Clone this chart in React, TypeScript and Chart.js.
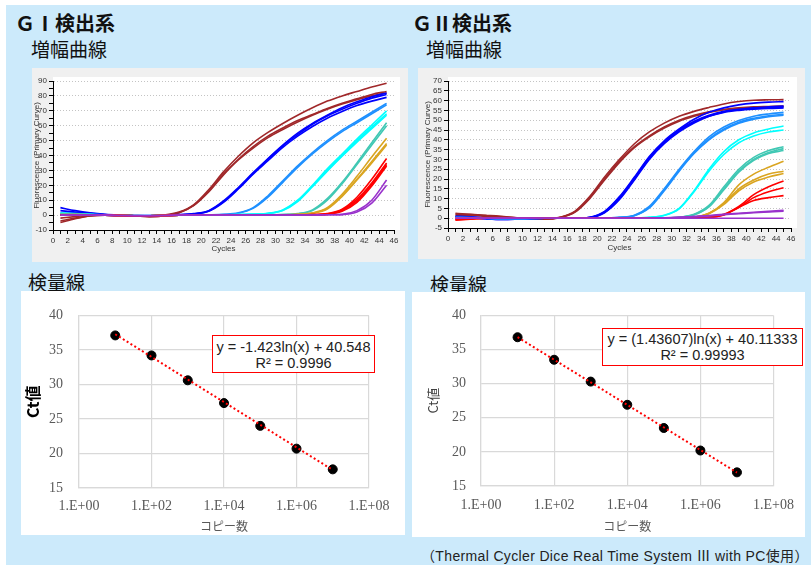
import React, { useEffect, useRef } from 'react';
import { Chart, registerables } from 'chart.js';
Chart.register(...registerables);
Chart.defaults.font.family = '"Liberation Sans", Arial, sans-serif';

// ---------- amplification curves (cycles sampled every 2) ----------
const CYCLES = [1, 3, 5, 7, 9, 11, 13, 15, 17, 19, 21, 23, 25, 27, 29, 31, 33, 35, 37, 39, 41, 43, 45];

const COLOR_DARKRED = '#A0282A';
const COLOR_BLUE = '#0000FF';
const COLOR_DODGER = '#1E90FF';
const COLOR_CYAN = '#00FFFF';
const COLOR_TEAL = '#40C8B4';
const COLOR_GOLD = '#DAA520';
const COLOR_RED = '#FF0000';
const COLOR_PURPLE = '#9932CC';

// GI
const GI_DARKRED = [
  [-2, -1, 0, 0, 0, -0.3, -0.5, 0, 2, 7, 17, 29, 39.5, 48.5, 55.5, 61.5, 67, 72, 76.5, 80, 83, 86, 88.5],
  [-4, -2, -0.5, 0, -0.2, -0.5, -1, -0.5, 1.5, 6.5, 16, 27.5, 37.5, 46, 53, 58.5, 63.5, 67.5, 71.5, 75, 78, 81, 83],
  [-5, -2.5, -0.5, 0, -0.2, -0.5, -1, -0.5, 1.5, 6.5, 15.5, 27, 37, 45, 52, 57.5, 62.5, 67, 71, 74.5, 77.5, 80, 82],
];
const GI_BLUE = [
  [5, 3, 1.5, 0.5, 0, -0.3, -0.3, 0, 0.3, 1, 3, 9.5, 18.5, 28.5, 38, 47, 55, 61.5, 67, 72, 76, 79.5, 82],
  [3, 2, 1.2, 0.3, -0.2, -0.4, -0.4, -0.2, 0.2, 0.8, 2.8, 9, 18, 28, 37.5, 46.5, 54, 61, 66.5, 71, 75, 78.5, 81],
  [1, 1.5, 1, 0.2, -0.3, -0.5, -0.5, -0.3, 0.1, 0.7, 2.5, 8.5, 17.5, 27.5, 36.5, 45.5, 53, 59.5, 65, 69.5, 73.5, 76.5, 79],
];
const GI_DODGER = [
  [1, 0.8, 0.5, 0.2, -0.2, -0.3, -0.3, -0.2, 0, 0.1, 0.2, 0.5, 1.5, 5, 13, 23, 33, 42, 50, 57, 63, 69, 75],
  [0.5, 0.5, 0.3, 0, -0.3, -0.4, -0.4, -0.3, 0, 0.1, 0.2, 0.4, 1.3, 4.5, 12, 22, 32, 41, 49, 56, 62, 68, 74],
];
const GI_CYAN = [
  [1.5, 1, 0.5, 0, -0.3, -0.4, -0.4, -0.3, 0, 0, 0, 0.2, 0.4, 0.7, 1.2, 3.5, 10, 20, 31, 41, 51, 60.5, 70],
  [1, 0.7, 0.3, 0, -0.3, -0.4, -0.4, -0.3, 0, 0, 0, 0.2, 0.3, 0.6, 1.1, 3.3, 9.5, 19.5, 30, 40, 50, 59, 68],
  [0.5, 0.5, 0.2, 0, -0.3, -0.4, -0.4, -0.3, 0, 0, 0, 0.1, 0.3, 0.5, 1, 3, 9, 19, 29.5, 39.5, 49, 58, 67],
];
const GI_TEAL = [
  [1, 0.8, 0.4, 0, -0.3, -0.4, -0.4, -0.3, 0, 0, 0, 0, 0, 0.1, 0.2, 0.4, 1, 3.5, 11, 22, 35, 48.5, 62],
  [0.5, 0.5, 0.2, 0, -0.3, -0.4, -0.4, -0.3, 0, 0, 0, 0, 0, 0.1, 0.2, 0.3, 0.8, 3, 10, 21, 34, 47, 60],
];
const GI_GOLD = [
  [0.3, 0.3, 0.2, 0, -0.3, -0.4, -0.4, -0.3, 0, 0, 0, 0, 0, 0, 0.1, 0.2, 0.5, 1.5, 5, 14, 26, 39, 51.5],
  [0, 0.2, 0.1, 0, -0.3, -0.4, -0.4, -0.3, 0, 0, 0, 0, 0, 0, 0.1, 0.2, 0.4, 1.3, 4.5, 13, 24, 36, 48],
  [0, 0.1, 0.1, 0, -0.3, -0.4, -0.4, -0.3, 0, 0, 0, 0, 0, 0, 0.1, 0.1, 0.4, 1.2, 4, 12.5, 23.5, 35, 47],
];
const GI_RED = [
  [0, 0, 0, 0, -0.3, -0.4, -0.4, -0.3, 0, 0, 0, 0, 0, 0, 0, 0, 0.1, 0.3, 1, 4, 12, 24, 38],
  [0, 0, 0, 0, -0.3, -0.4, -0.4, -0.3, 0, 0, 0, 0, 0, 0, 0, 0, 0.1, 0.3, 0.8, 3.5, 10.5, 21.5, 35],
  [0, 0, 0, 0, -0.3, -0.4, -0.4, -0.3, 0, 0, 0, 0, 0, 0, 0, 0, 0.1, 0.2, 0.6, 3, 9.5, 20.5, 34],
  [0, 0, 0, 0, -0.3, -0.4, -0.4, -0.3, 0, 0, 0, 0, 0, 0, 0, 0, 0.1, 0.2, 0.5, 2.5, 8.5, 19.5, 33],
];
const GI_PURPLE = [
  [0, 0, 0, 0, -0.3, -0.4, -0.4, -0.3, 0, 0, 0, 0, 0, 0, 0, 0, 0, 0.1, 0.2, 0.5, 3, 10, 23.5],
  [0, 0, 0, 0, -0.3, -0.4, -0.4, -0.3, 0, 0, 0, 0, 0, 0, 0, 0, 0, 0.1, 0.2, 0.3, 2, 8, 20],
];

// GII
const GII_DARKRED = [
  [2.5, 2, 1.5, 1, 0.3, -0.3, -0.3, 0.5, 3.5, 11, 21, 30, 38, 44, 48.5, 52, 54.5, 56.5, 58.3, 59.5, 60.2, 60.4, 60.5],
  [2, 1.8, 1.3, 0.8, 0.2, -0.4, -0.4, 0.4, 3.2, 10.5, 20, 29, 36.5, 42, 46.5, 50, 52.5, 54.3, 55.5, 56.3, 56.8, 57, 57.2],
  [1.5, 1.5, 1, 0.5, 0, -0.5, -0.5, 0.3, 3, 10, 19.5, 28.5, 36, 41.5, 46, 49.5, 52, 54, 55.3, 56, 56.5, 56.8, 57],
];
const GII_BLUE = [
  [1, 0.7, 0.2, -0.3, -0.3, 0, 0, 0, 0, 0.5, 3.5, 11, 21, 31.5, 39.5, 45.5, 50.5, 54, 56.3, 57.8, 58.7, 59.2, 59.5],
  [0.8, 0.5, 0, -0.5, -0.5, -0.2, 0, 0, 0, 0.4, 3.2, 10.5, 20.5, 31, 39, 45, 49.5, 52.5, 54.5, 55.5, 56, 56.3, 56.5],
  [0.5, 0.3, -0.2, -0.6, -0.5, -0.2, 0, 0, 0, 0.3, 3, 10, 20, 30.5, 38.5, 44.5, 49, 52, 54, 55, 55.6, 56, 56.2],
  [0.3, 0.2, -0.3, -0.6, -0.5, -0.2, 0, 0, 0, 0.3, 2.8, 9.5, 19.5, 30, 38, 44, 48.5, 52, 54.2, 55.5, 56.3, 56.8, 57.2],
];
const GII_DODGER = [
  [0.5, 0.3, 0, -0.3, -0.3, -0.1, 0, 0, 0, 0, 0.1, 0.4, 1.5, 6, 15, 25, 34, 41.5, 46.5, 49.8, 52, 53.2, 54],
  [0.3, 0.2, 0, -0.3, -0.3, -0.1, 0, 0, 0, 0, 0.1, 0.4, 1.4, 5.5, 14.5, 24.5, 33.5, 40.5, 45.5, 49, 51, 52.3, 53],
  [0.2, 0.1, 0, -0.3, -0.3, -0.1, 0, 0, 0, 0, 0.1, 0.3, 1.3, 5.2, 14, 24, 33, 40, 45, 48.5, 50.5, 51.8, 52.5],
];
const GII_CYAN = [
  [0, 0, 0, 0, 0, 0, 0, 0, 0, 0, 0, 0.1, 0.2, 0.5, 1.5, 5, 14, 25, 34, 40, 43.5, 45.5, 47],
  [0, 0, 0, 0, 0, 0, 0, 0, 0, 0, 0, 0.1, 0.2, 0.5, 1.4, 4.8, 13.5, 24, 32.5, 38.5, 42, 44, 45],
];
const GII_TEAL = [
  [0, 0, 0, 0, 0, 0, 0, 0, 0, 0, 0, 0, 0, 0.1, 0.2, 0.5, 2, 6.5, 16, 25, 31, 34.5, 36.5],
  [0, 0, 0, 0, 0, 0, 0, 0, 0, 0, 0, 0, 0, 0.1, 0.2, 0.5, 1.8, 6, 15, 24, 30, 33.5, 35.5],
  [0, 0, 0, 0, 0, 0, 0, 0, 0, 0, 0, 0, 0, 0.1, 0.2, 0.4, 1.7, 5.8, 14.5, 23.5, 29.5, 33, 34.5],
];
const GII_GOLD = [
  [0, 0, 0, 0, 0, 0, 0, 0, 0, 0, 0, 0, 0, 0, 0.1, 0.2, 0.5, 2.5, 8, 17, 22.5, 26, 29],
  [0, 0, 0, 0, 0, 0, 0, 0, 0, 0, 0, 0, 0, 0, 0.1, 0.2, 0.5, 2.5, 7.5, 15, 19.5, 22.5, 24],
  [0, 0, 0, 0, 0, 0, 0, 0, 0, 0, 0, 0, 0, 0, 0.1, 0.2, 0.4, 2.3, 7, 14, 18.5, 21, 22.8],
];
const GII_RED = [
  [-1, -0.5, 0, 0, 0, 0, 0, 0, 0, 0, 0, 0, 0, 0, 0, 0.1, 0.2, 0.5, 2, 6, 12, 16, 19],
  [-0.8, -0.4, 0, 0, 0, 0, 0, 0, 0, 0, 0, 0, 0, 0, 0, 0.1, 0.2, 0.4, 1.8, 5.5, 10.5, 13.5, 15.5],
  [-0.5, -0.3, 0, 0, 0, 0, 0, 0, 0, 0, 0, 0, 0, 0, 0, 0.1, 0.2, 0.4, 1.7, 5.5, 9, 10.5, 11.5],
];
const GII_PURPLE = [
  [0, 0, 0, 0, 0, 0, 0, 0, 0, 0, 0, 0, 0, 0, 0.2, 0.5, 0.9, 1.4, 2, 2.5, 3, 3.5, 4],
  [0, 0, 0, 0, 0, 0, 0, 0, 0, 0, 0, 0, 0, 0, 0.1, 0.4, 0.8, 1.2, 1.8, 2.3, 2.8, 3.2, 3.6],
  [0, 0, 0, 0, 0, 0, 0, 0, 0, 0, 0, 0, 0, 0, 0, 0, 0, 0, 0, 0, 0, 0, 0],
];

// ---------- calibration curves ----------
const COPIES = [1e1, 1e2, 1e3, 1e4, 1e5, 1e6, 1e7];
const CT_GI = [37.1, 34.2, 30.6, 27.3, 24.0, 20.7, 17.7];
const CT_GII = [36.8, 33.5, 30.3, 26.9, 23.5, 20.2, 17.0];
const TREND_X = [1e1, 1e7];
const TREND_GI = [37.27, 17.61];
const TREND_GII = [36.81, 16.97];
const LOG_TICKS = [1, 1e2, 1e4, 1e6, 1e8];

const bgPlugin = {
  id: 'bg',
  beforeDraw(chart: any, _args: any, opts: any) {
    const { ctx, chartArea: a, width, height } = chart;
    ctx.save();
    ctx.fillStyle = opts.outer;
    ctx.fillRect(0, 0, width, height);
    if (opts.inner) {
      ctx.fillStyle = opts.inner;
      ctx.fillRect(a.left, a.top - opts.extTop, a.right - a.left + opts.extRight, a.bottom - a.top + opts.extTop);
    }
    ctx.restore();
  },
};

function ampConfig(groups: [string, number[][]][], yMin: number, yMax: number, yStep: number, yLabelStep: number,
  yW: number, xH: number, yTitlePad: number, xTitlePad: number) {
  const datasets: any[] = [];
  groups.forEach(([color, lines]) => lines.forEach((arr) => datasets.push({
    data: arr.map((v, i) => ({ x: CYCLES[i], y: v })),
    borderColor: color, borderWidth: 1.6, pointRadius: 0, cubicInterpolationMode: 'monotone', fill: false,
  })));
  datasets.reverse();
  const tickFont = { size: 8, family: '"Liberation Sans", Arial, sans-serif' };
  return {
    type: 'line',
    data: { datasets },
    plugins: [bgPlugin],
    options: {
      animation: false, responsive: false, devicePixelRatio: 1,
      layout: { padding: { top: 13, right: 14, left: 0, bottom: 0 } },
      plugins: { legend: { display: false }, tooltip: { enabled: false }, bg: { outer: '#f0f0f0', inner: '#ffffff', extTop: 4, extRight: 6 } },
      scales: {
        x: {
          type: 'linear', min: 0, max: 46,
          afterFit: (s: any) => { s.height = xH; },
          ticks: { stepSize: 1, autoSkip: false, maxRotation: 0, padding: 2, color: '#333', font: tickFont,
            callback: (v: any) => (v % 2 === 0 ? String(v) : '') },
          grid: { drawOnChartArea: false, tickLength: 4, tickColor: '#000' },
          border: { color: '#000' },
          title: { display: true, text: 'Cycles', color: '#333', font: tickFont, padding: { top: 0, bottom: xTitlePad } },
        },
        y: {
          min: yMin, max: yMax,
          afterFit: (s: any) => { s.width = yW; },
          ticks: { stepSize: yStep, autoSkip: false, padding: 2, color: '#333', font: tickFont,
            callback: (v: any) => (v % yLabelStep === 0 ? String(v) : '') },
          grid: {
            color: (ctx: any) => (ctx.tick && ctx.tick.value % yLabelStep === 0 && ctx.tick.value !== yMin ? '#c4c4c4' : 'rgba(0,0,0,0)'),
            tickColor: '#000', tickLength: 4,
          },
          border: { color: '#000', dash: [1, 2] },
          title: { display: true, text: 'Fluorescence (Primary Curve)', color: '#333', font: tickFont, padding: { top: yTitlePad, bottom: 0 } },
        },
      },
    },
  };
}

function calConfig(ct: number[], trend: number[], yW: number, xH: number, padTop: number, padRight: number,
  yTitle: any, yTitlePad: number, yTickPad: number, xTickPad: number, xTitlePad: number) {
  const serif = { family: '"Liberation Serif", "DejaVu Serif", serif', size: 14 };
  return {
    type: 'scatter',
    data: {
      datasets: [
        { data: TREND_X.map((x, i) => ({ x, y: trend[i] })), showLine: true, borderColor: '#FF0000', borderWidth: 2,
          borderDash: [2, 2.5], pointRadius: 0, order: 0 },
        { data: COPIES.map((x, i) => ({ x, y: ct[i] })), pointRadius: 4.5, pointBackgroundColor: '#000', pointBorderColor: '#000', order: 1 },
      ],
    },
    plugins: [bgPlugin],
    options: {
      animation: false, responsive: false, devicePixelRatio: 1,
      layout: { padding: { top: padTop, right: padRight, left: 0, bottom: 0 } },
      plugins: { legend: { display: false }, tooltip: { enabled: false }, bg: { outer: '#ffffff' } },
      scales: {
        x: {
          type: 'logarithmic', min: 1, max: 1e8,
          afterBuildTicks: (s: any) => { s.ticks = LOG_TICKS.map((v) => ({ value: v })); },
          afterFit: (s: any) => { s.height = xH; },
          ticks: { autoSkip: false, maxRotation: 0, padding: xTickPad, color: '#595959', font: serif,
            callback: (v: any) => '1.E+' + String(Math.round(Math.log10(v))).padStart(2, '0') },
          grid: { color: '#d9d9d9', drawTicks: false, lineWidth: 1.2 },
          border: { color: '#d9d9d9', width: 1.2 },
          title: { display: true, text: 'コピー数', color: '#595959', font: { family: '"Noto Sans CJK JP", sans-serif', size: 12 },
            padding: { top: 0, bottom: xTitlePad } },
        },
        y: {
          min: 15, max: 40,
          afterFit: (s: any) => { s.width = yW; },
          ticks: { stepSize: 5, padding: yTickPad, color: '#595959', font: serif },
          grid: { color: '#d9d9d9', drawTicks: false, lineWidth: 1.2 },
          border: { color: '#d9d9d9', width: 1.2 },
          title: { display: true, text: 'Ct値', color: yTitle.color, font: yTitle.font, padding: { top: yTitlePad, bottom: 0 } },
        },
      },
    },
  };
}

function ChartBox({ left, top, width, height, make }: any) {
  const ref = useRef<HTMLCanvasElement>(null);
  useEffect(() => {
    const chart = new Chart(ref.current as HTMLCanvasElement, make());
    return () => chart.destroy();
  }, []);
  return <canvas ref={ref} width={width} height={height} style={{ position: 'absolute', left, top, width, height }} />;
}

const JP = '"Noto Sans CJK JP", sans-serif';

function Txt({ left, top, size, bold, children, style }: any) {
  return (
    <div style={{ position: 'absolute', left, top, fontSize: size, lineHeight: `${Math.round(size * 1.2)}px`,
      fontWeight: bold ? 'bold' : 'normal', fontFamily: JP, color: '#111', whiteSpace: 'nowrap', ...style }}>
      {children}
    </div>
  );
}

function EqBox({ left, top, width, height, lines, padTop }: any) {
  return (
    <div style={{ position: 'absolute', left, top, width, height, boxSizing: 'border-box', border: '1.5px solid #ff0000',
      background: '#fff', textAlign: 'center', fontFamily: '"Liberation Sans", Arial, sans-serif', fontSize: 14.5,
      lineHeight: '16px', paddingTop: padTop, color: '#222', whiteSpace: 'nowrap' }}>
      {lines.map((l: string, i: number) => <div key={i}>{l}</div>)}
    </div>
  );
}

export default function App() {
  const giGroups: [string, number[][]][] = [
    [COLOR_DARKRED, GI_DARKRED], [COLOR_BLUE, GI_BLUE], [COLOR_DODGER, GI_DODGER], [COLOR_CYAN, GI_CYAN],
    [COLOR_TEAL, GI_TEAL], [COLOR_GOLD, GI_GOLD], [COLOR_RED, GI_RED], [COLOR_PURPLE, GI_PURPLE],
  ];
  const giiGroups: [string, number[][]][] = [
    [COLOR_DARKRED, GII_DARKRED], [COLOR_BLUE, GII_BLUE], [COLOR_DODGER, GII_DODGER], [COLOR_CYAN, GII_CYAN],
    [COLOR_TEAL, GII_TEAL], [COLOR_GOLD, GII_GOLD], [COLOR_RED, GII_RED], [COLOR_PURPLE, GII_PURPLE],
  ];
  return (
    <div style={{ position: 'absolute', left: 0, top: 0, width: 811, height: 565, background: '#fff', overflow: 'hidden' }}>
      <div style={{ position: 'absolute', left: 6, top: 5, width: 805, height: 560, background: '#cceafb' }} />
      <Txt left={15} top={11} size={20} bold>ＧⅠ検出系</Txt>
      <Txt left={31} top={37} size={19}>増幅曲線</Txt>
      <Txt left={412} top={11} size={20} bold>ＧⅡ検出系</Txt>
      <Txt left={426} top={37} size={19}>増幅曲線</Txt>
      <ChartBox left={32} top={68} width={376} height={194}
        make={() => ampConfig(giGroups, -10, 90, 5, 10, 21, 32, 0, 8)} />
      <ChartBox left={418} top={68} width={387} height={191}
        make={() => ampConfig(giiGroups, -5, 70, 5, 5, 30, 31, 5, 6)} />
      <Txt left={28} top={270} size={19}>検量線</Txt>
      <Txt left={430} top={272} size={19}>検量線</Txt>
      <ChartBox left={21} top={291} width={384} height={244}
        make={() => calConfig(CT_GI, TREND_GI, 58, 47, 17, 36,
          { color: '#000', font: { family: JP, size: 16, weight: 'bold' } }, 2, 16, 10, 1)} />
      <ChartBox left={412} top={292} width={393} height={245}
        make={() => calConfig(CT_GII, TREND_GII, 69, 51, 15, 29,
          { color: '#404040', font: { family: JP, size: 13, weight: 'normal' } }, 13, 15, 11, 3)} />
      <EqBox left={212} top={335} width={163} height={38} padTop={3}
        lines={['y = -1.423ln(x) + 40.548', 'R² = 0.9996']} />
      <EqBox left={602} top={328} width={201} height={38} padTop={2}
        lines={['y = (1.43607)ln(x) + 40.11333', 'R² = 0.99993']} />
      <Txt left={421} top={548} size={14} style={{ fontFamily: '"Liberation Sans", "Noto Sans CJK JP", sans-serif', color: '#222', letterSpacing: '0.35px' }}>
        （Thermal Cycler Dice Real Time System Ⅲ with PC使用）
      </Txt>
    </div>
  );
}
